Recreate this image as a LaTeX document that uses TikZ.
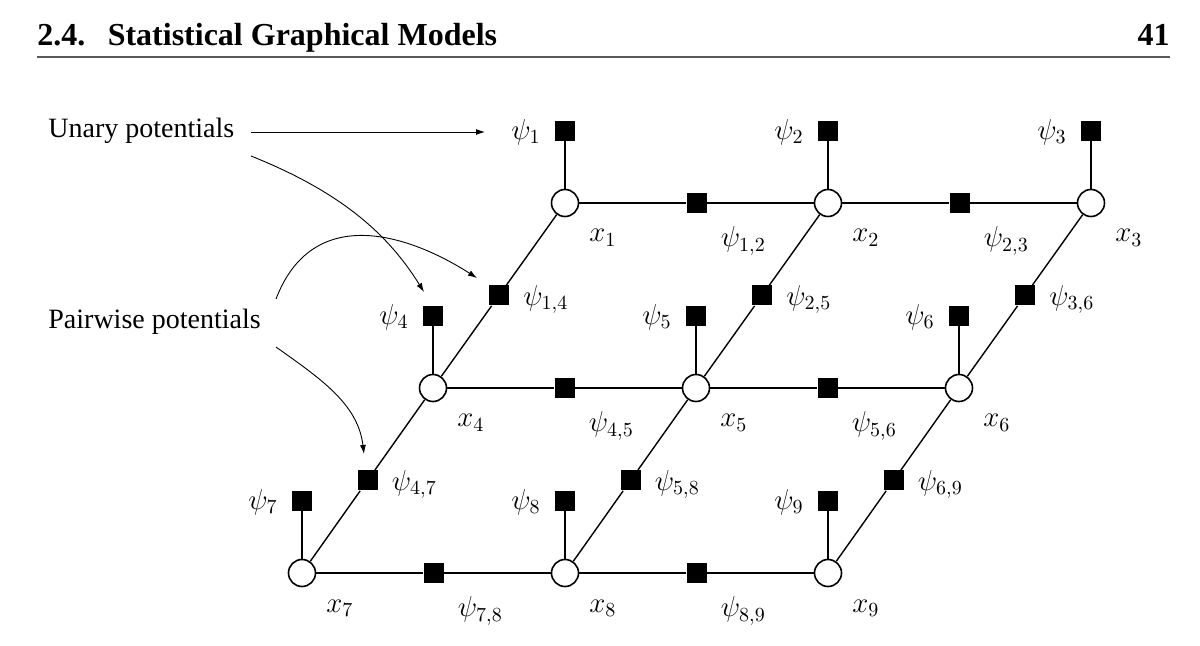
\documentclass[tikz,border=0pt]{standalone}
\usepackage{fontspec}
\setmainfont{Liberation Serif}
\usetikzlibrary{arrows.meta,calc}
\begin{document}
\begin{tikzpicture}[x=0.5pt,y=-0.5pt,
  var/.style={circle,draw,line width=0.8pt,fill=white,minimum size=13.5pt,inner sep=0pt},
  fac/.style={rectangle,fill=black,minimum size=10pt,inner sep=0pt},
  edge/.style={line width=0.7pt},
  lbl/.style={inner sep=0pt,font=\fontsize{14.4}{17}\selectfont},
  ann/.style={line width=0.45pt,-{Latex[length=4.5pt,width=3pt]}},
  txt/.style={inner sep=0pt,font=\fontsize{14}{17}\selectfont}
]
\useasboundingbox (0,0) rectangle (1200,646);
% header
\node[anchor=base west,inner sep=0pt,font=\fontsize{16}{19}\selectfont\bfseries] (head) at (37,46) {2.4.\hspace{0.7em}Statistical Graphical Models};
\node[anchor=base east,inner sep=0pt,font=\fontsize{16}{19}\selectfont\bfseries] (page) at (1170,46) {41};
\draw[line width=0.7pt,black!65] (37,57) -- (1170,57);
% variables and unary factors
\foreach \n/\x/\y in {1/565/203,2/828/203,3/1091/203,4/433/388,5/696/388,6/959/388,7/302/573,8/565/573,9/828/573}{
  \node[var] (x\n) at (\x,\y) {};
  \node[fac] (u\n) at (\x,\y-72) {};
  \draw[edge] (x\n) -- (u\n);
  \node[lbl,anchor=base west] (lx\n) at ($(x\n)+(24,39)$) {$x_{\n}$};
  \node[lbl,anchor=east] (lu\n) at ($(u\n)+(-24,1)$) {$\psi_{\n}$};
}
% horizontal pairwise factors
\foreach \a/\b in {1/2,2/3,4/5,5/6,7/8,8/9}{
  \node[fac] (p\a\b) at ($(x\a)!0.5!(x\b)$) {};
  \draw[edge] (x\a) -- (p\a\b) -- (x\b);
  \node[lbl,anchor=base west] (lp\a\b) at ($(p\a\b)+(24,44)$) {$\psi_{\a,\b}$};
}
% diagonal pairwise factors
\foreach \a/\b in {1/4,2/5,3/6,4/7,5/8,6/9}{
  \node[fac] (p\a\b) at ($(x\a)!0.5!(x\b)$) {};
  \draw[edge] (x\a) -- (p\a\b) -- (x\b);
  \node[lbl,anchor=base west] (lp\a\b) at ($(p\a\b)+(24,10)$) {$\psi_{\a,\b}$};
}
% annotations
\node[txt,anchor=base west] (unary) at (48,138) {Unary potentials};
\node[txt,anchor=base west] (pair) at (48,329) {Pairwise potentials};
\coordinate (a1s) at (251,132); \coordinate (a1e) at (485,132);
\draw[ann] (a1s) -- (a1e);
\coordinate (a2s) at (251,156); \coordinate (a2e) at (424,292);
\draw[ann] (a2s) .. controls (341,192) and (388,234) .. (a2e);
\coordinate (a3s) at (276,299); \coordinate (a3e) at (477,278);
\draw[ann] (a3s) .. controls (312,205) and (405,232) .. (a3e);
\coordinate (a4s) at (276,347); \coordinate (a4e) at (364,454);
\draw[ann] (a4s) .. controls (321,379) and (358,404) .. (a4e);
\end{tikzpicture}
\end{document}
